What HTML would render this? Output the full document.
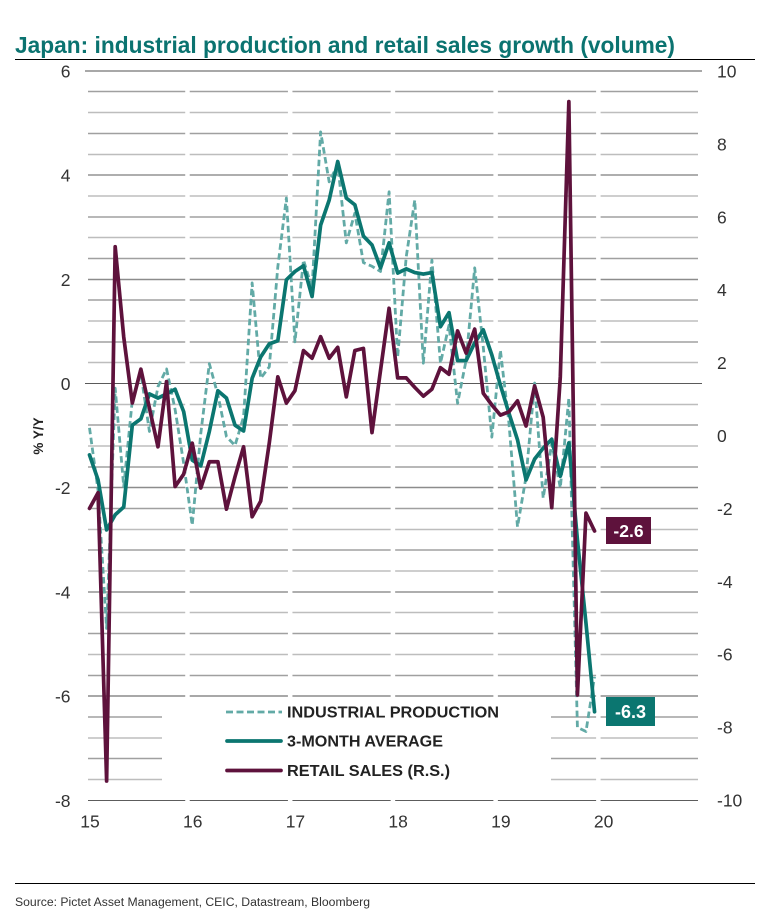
<!DOCTYPE html>
<html lang="en">
<head>
<meta charset="utf-8">
<title>Japan: industrial production and retail sales growth (volume)</title>
<style>
  html, body { margin: 0; padding: 0; background: #fff; }
  body { width: 758px; height: 918px; overflow: hidden; }
  svg { display: block; font-family: "Liberation Sans", Arial, sans-serif; }
</style>
</head>
<body>
<svg id="chart" width="758" height="918" viewBox="0 0 758 918" xmlns="http://www.w3.org/2000/svg">
  <rect x="0" y="0" width="758" height="918" fill="#fff"/>
  <text x="15" y="53" font-size="23" font-weight="700" fill="#0b7370" textLength="660" lengthAdjust="spacingAndGlyphs">Japan: industrial production and retail sales growth (volume)</text>
  <rect x="15" y="59" width="740" height="1" fill="#000"/>
  <g id="grid"></g>
  <g id="ticks"></g>
  <g id="series"></g>
  <text transform="translate(43 436) rotate(-90)" text-anchor="middle" font-size="13.5" font-weight="700" fill="#222">% Y/Y</text>
  <g>
    <line x1="226" y1="712" x2="282" y2="712" stroke="#62aaa6" stroke-width="2.8" stroke-dasharray="7 3.5"/>
    <text x="287" y="717.5" font-size="15.5" font-weight="700" fill="#222" textLength="212" lengthAdjust="spacingAndGlyphs">INDUSTRIAL PRODUCTION</text>
    <line x1="227" y1="741" x2="281" y2="741" stroke="#0b7670" stroke-width="3.7" stroke-linecap="round"/>
    <text x="287" y="746.5" font-size="15.5" font-weight="700" fill="#222" textLength="156" lengthAdjust="spacingAndGlyphs">3-MONTH AVERAGE</text>
    <line x1="227" y1="770.5" x2="281" y2="770.5" stroke="#5e123c" stroke-width="3.7" stroke-linecap="round"/>
    <text x="287" y="776" font-size="15.5" font-weight="700" fill="#222" textLength="163" lengthAdjust="spacingAndGlyphs">RETAIL SALES (R.S.)</text>
  </g>
  <g>
    <rect x="606" y="517" width="45" height="27" fill="#5e123c"/>
    <text x="628.5" y="537" text-anchor="middle" font-size="17.5" font-weight="700" fill="#fff" id="retailLabel">-2.6</text>
  </g>
  <g>
    <rect x="606" y="697" width="49" height="29" fill="#0b7670"/>
    <text x="630.5" y="718" text-anchor="middle" font-size="18" font-weight="700" fill="#fff" id="avgLabel">-6.3</text>
  </g>
  <rect x="15" y="883" width="740" height="1" fill="#000"/>
  <text x="15" y="906" font-size="11.5" fill="#333" textLength="355" lengthAdjust="spacingAndGlyphs">Source: Pictet Asset Management, CEIC, Datastream, Bloomberg</text>
</svg>
<script>
// Monthly data, Jan 2015 to Dec 2019
const industrialProduction = [
  -0.85,-2.05,-4.7,-0.09,-1.98,-0.32,0.2,-0.92,-0.06,0.28,-0.5,-1.53,
  -2.72,-0.96,0.38,-0.22,-1.02,-1.19,-0.64,1.93,0.1,0.32,2.24,3.56,
  0.8,2.37,1.83,4.83,3.87,4.2,2.7,3.27,2.32,2.25,2.15,3.68,
  0.51,2.43,3.52,0.39,2.37,0.39,1.12,-0.38,0.45,2.22,0.7,-1.03,
  0.64,-0.76,-2.75,-1.79,0.01,-2.2,-1.15,-2.0,-0.28,-6.6,-6.68,-5.63
];
const threeMonthAverage = [
  -1.37,-1.85,-2.81,-2.52,-2.37,-0.8,-0.68,-0.2,-0.28,-0.2,-0.11,-0.54,
  -1.47,-1.58,-0.92,-0.14,-0.28,-0.8,-0.91,0.1,0.51,0.76,0.82,1.99,
  2.15,2.26,1.67,3.04,3.52,4.26,3.56,3.43,2.83,2.66,2.22,2.7,
  2.12,2.2,2.13,2.1,2.13,1.09,1.36,0.44,0.44,0.78,1.03,0.55,
  -0.03,-0.57,-1.08,-1.85,-1.45,-1.24,-1.07,-1.78,-1.14,-3.0,-4.6,-6.3
];
const retailSales = [
  -2.0,-1.57,-9.48,5.18,2.7,0.89,1.82,0.75,-0.31,1.48,-1.4,-1.06,
  -0.21,-1.44,-0.72,-0.72,-2.02,-1.13,-0.31,-2.23,-1.8,-0.21,1.61,0.89,
  1.23,2.33,2.12,2.71,2.12,2.42,1.06,2.33,2.39,0.08,1.79,3.49,
  1.58,1.58,1.32,1.08,1.27,1.86,1.68,2.87,2.26,2.92,1.16,0.84,
  0.56,0.65,0.95,0.26,1.36,0.5,-1.98,1.61,9.16,-7.12,-2.13,-2.62
];
const leftTicks = [6,4,2,0,-2,-4,-6,-8];
const rightTicks = [10,8,6,4,2,0,-2,-4,-6,-8,-10];
const yearLabels = ["15","16","17","18","19","20"];
const gridStep = 0.4;

const SVG_NS = "http://www.w3.org/2000/svg";
const xScale = function (monthIndex) { return 89.5 + 8.56 * monthIndex; };
const yLeft = function (v) { return 383.5 - 52.1 * v; };
const yRight = function (v) { return 435.5 - 36.45 * v; };

function make(tag, attrs, parent, text) {
  const el = document.createElementNS(SVG_NS, tag);
  Object.keys(attrs).forEach(function (k) { el.setAttribute(k, attrs[k]); });
  if (text !== undefined) el.textContent = text;
  parent.appendChild(el);
  return el;
}

// Gridlines, broken just before each year tick
const gridGroup = document.getElementById("grid");
const breaks = yearLabels.slice(1).map(function (_, i) { return xScale((i + 1) * 12); });
function segmentsFor(step) {
  // The legend area is blanked out between the -6 and -8 lines
  if (step > 30 && step < 35) {
    return [[88, 162], [551, breaks[4] - 7], [breaks[4] - 2.5, 698]];
  }
  const segs = [];
  let start = 88;
  breaks.forEach(function (b) {
    segs.push([start, b - 7]);
    start = b - 2.5;
  });
  segs.push([start, 698]);
  return segs;
}
for (let k = 0; k <= 35; k++) {
  const value = leftTicks[0] - k * gridStep;
  const y = Math.round(yLeft(value) * 2) / 2;
  const major = k % 5 === 0;
  let colour = k % 2 === 0 ? "#bdbdbd" : "#a0a0a0";
  let width = 1.4;
  if (major) { colour = "#8c8c8c"; width = 1.6; }
  if (k === 5 || k === 25 || k === 35) { colour = "#5c5c5c"; width = 1.1; }
  if (k === 15) { colour = "#5a5a5a"; width = 1.1; }
  if (k === 0 || k === 15) {
    const full = make("line", { x1: 85, x2: 702, y1: y, y2: y, stroke: colour, "stroke-width": width }, gridGroup);
    
    
    continue;
  }
  segmentsFor(k).forEach(function (seg) {
    const line = make("line", { x1: seg[0], x2: seg[1], y1: y, y2: y, stroke: colour, "stroke-width": width }, gridGroup);
    
    
  });
}

// Axis tick labels
const tickGroup = document.getElementById("ticks");
leftTicks.forEach(function (t) {
  const el = make("text", { x: 70.5, y: yLeft(t) + 6.5, "text-anchor": "end", "font-size": 17.5, fill: "#333" }, tickGroup, String(t));
  
  
});
rightTicks.forEach(function (t) {
  const el = make("text", { x: 717, y: yRight(t) + 6.5, "font-size": 17.5, fill: "#333" }, tickGroup, String(t));
  
  
});
yearLabels.forEach(function (label, i) {
  const el = make("text", { x: xScale(i * 12) + 0.5, y: 827.5, "text-anchor": "middle", "font-size": 17.5, fill: "#333" }, tickGroup, label);
  
  
});

// Series lines
function linePath(values, yScale) {
  return values.map(function (v, i) {
    return (i === 0 ? "M" : "L") + xScale(i).toFixed(2) + " " + yScale(v).toFixed(2);
  }).join(" ");
}
const seriesGroup = document.getElementById("series");
const ipLine = make("path", { d: linePath(industrialProduction, yLeft), fill: "none", stroke: "#62aaa6", "stroke-width": 2.8, "stroke-dasharray": "6.5 3.5", "stroke-linejoin": "round" }, seriesGroup);


const avgLine = make("path", { d: linePath(threeMonthAverage, yLeft), fill: "none", stroke: "#0b7670", "stroke-width": 3.7, "stroke-linejoin": "round", "stroke-linecap": "round" }, seriesGroup);


const retailLine = make("path", { d: linePath(retailSales, yRight), fill: "none", stroke: "#5e123c", "stroke-width": 3.7, "stroke-linejoin": "round", "stroke-linecap": "round" }, seriesGroup);


</script>
</body>
</html>
